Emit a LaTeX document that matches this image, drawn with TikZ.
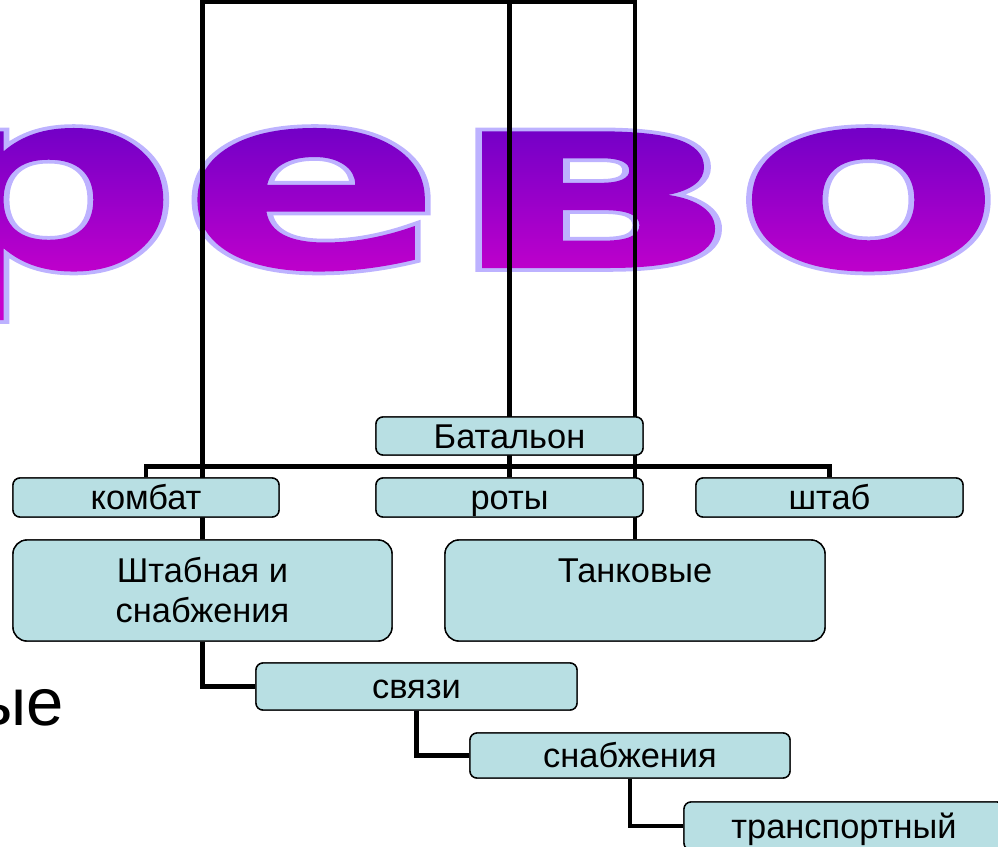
\documentclass[tikz,border=0pt]{standalone}
\usepackage{fontspec}
\usepackage{graphicx}
\setmainfont{Liberation Sans}
\newfontfamily\bigfont{DejaVu Sans}[BoldFeatures={FakeBold=3}]
\definecolor{boxfill}{RGB}{184,223,227}
\definecolor{titlecol}{RGB}{150,0,200}
\newcommand\gradset{\special{pdf:code /Pattern cs /GradP scn 0.74 0.70 1 RG}}
\newcommand\gradstart{%
  \special{pdf:obj @gradpat << /Type /Pattern /PatternType 2 /Shading << /ShadingType 2 /ColorSpace /DeviceRGB /Coords [0 557 0 720] /Function << /FunctionType 2 /Domain [0 1] /C0 [0.78 0 0.80] /C1 [0.44 0 0.78] /N 1 >> /Extend [true true] >> >>}%
  \special{pdf:put @resources << /Pattern << /GradP @gradpat >> >>}%
  \special{pdf:code q}\gradset}
\newcommand\gradstop{\special{pdf:code Q}}
\begin{document}
\begin{tikzpicture}[x=1pt,y=-1pt,
  conn/.style={line width=4.5pt,draw=black,line join=miter},
  box/.style={draw=black,line width=1.4pt,fill=boxfill,rounded corners=7pt,inner sep=0pt,
    font=\fontsize{34.4}{40}\selectfont,align=center},
  sbox/.style={box,text height=24.6pt,text depth=0pt},
  bigbox/.style={box,rounded corners=14pt}]
\useasboundingbox (0,0) rectangle (998,846);
\clip (0,0) rectangle (998,846);
% title
\node[anchor=base west,inner sep=0pt,xscale=1.55,font=\bigfont\bfseries\fontsize{250}{250}\selectfont,text=titlecol] (title) at (-97,268) {\gradstart ре\scalebox{1.19}[1]{в}\gradset о\gradstop};
\node[anchor=base east,inner sep=0pt,font=\fontsize{67}{70}\selectfont] (tail) at (64,725) {ые};
% coordinates at top
\coordinate (top) at (0,2);
\coordinate (topm) at (0,-5);
% box positions
\path[every node/.append style={draw=none,fill=none,text opacity=0}]
  node[sbox,minimum width=267pt,minimum height=38pt] (bat) at (509.5,436) {}
  node[sbox,minimum width=266pt,minimum height=39pt] (komb) at (146,497.5) {}
  node[sbox,minimum width=267pt,minimum height=39pt] (roty) at (509.5,497.5) {}
  node[sbox,minimum width=267pt,minimum height=39pt] (shtab) at (829.5,497.5) {}
  node[bigbox,minimum width=379pt,minimum height=101pt] (shn) at (202.5,590.5) {}
  node[bigbox,minimum width=380pt,minimum height=101pt] (tank) at (635,590.5) {}
  node[sbox,minimum width=321pt,minimum height=47pt] (svy) at (416.5,686.5) {}
  node[sbox,minimum width=320pt,minimum height=45pt] (snab) at (630,755.5) {}
  node[sbox,minimum width=320pt,minimum height=48pt] (tr) at (844,826) {};
% connectors
\draw[conn] (shn.north) -- (shn.north |- top) -- (tank.north |- top) -- (tank.north);
\draw[conn] (roty.north |- topm) -- (roty.north);
\draw[conn] (komb.north) -- ++(0,-11) -| (shtab.north);
\draw[conn] (shn.south) |- (svy.west);
\draw[conn] (svy.south) |- (snab.west);
\draw[conn] (snab.south) |- (tr.west);
% boxes on top of the connectors
\path
  node[sbox,minimum width=267pt,minimum height=38pt] at (bat) {Батальон}
  node[sbox,minimum width=266pt,minimum height=39pt] at (komb) {комбат}
  node[sbox,minimum width=267pt,minimum height=39pt] at (roty) {роты}
  node[sbox,minimum width=267pt,minimum height=39pt] at (shtab) {штаб}
  node[bigbox,minimum width=379pt,minimum height=101pt] at (shn) {Штабная и\\снабжения}
  node[bigbox,minimum width=380pt,minimum height=101pt] at (tank) {Танковые\\\mbox{}}
  node[sbox,minimum width=321pt,minimum height=47pt] at (svy) {связи}
  node[sbox,minimum width=320pt,minimum height=45pt] at (snab) {снабжения}
  node[sbox,minimum width=320pt,minimum height=48pt] at (tr) {транспортный};
\end{tikzpicture}
\end{document}
